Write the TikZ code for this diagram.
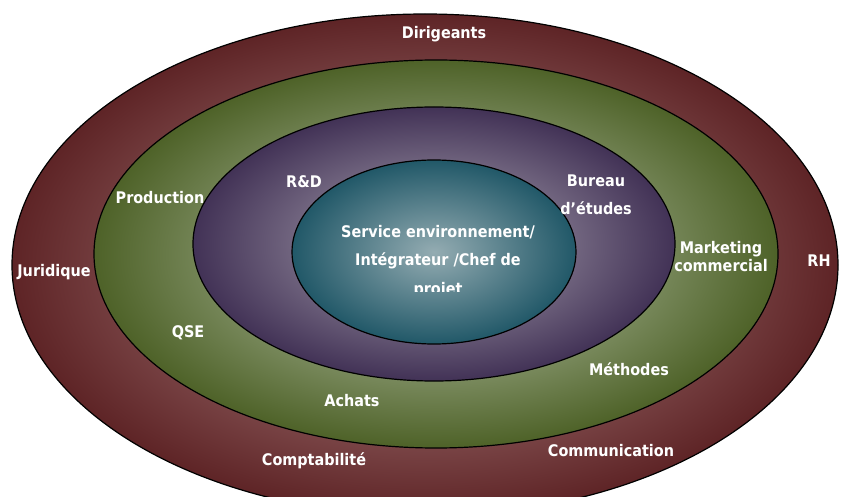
\documentclass[tikz,border=0pt]{standalone}
\usepackage{fontspec}
\setsansfont{DejaVu Sans Condensed}
\usetikzlibrary{positioning}
\makeatletter
\pgfdeclareradialshading[tikz@radial@inner,tikz@radial@outer]{softglow}{\pgfpointorigin}{color(0bp)=(tikz@radial@inner); color(25bp)=(tikz@radial@outer); color(50bp)=(tikz@radial@outer)}
\makeatother
\definecolor{maroonedge}{RGB}{94,36,38}
\definecolor{maroonglow}{RGB}{190,150,150}
\definecolor{oliveedge}{RGB}{78,98,40}
\definecolor{oliveglow}{RGB}{200,210,190}
\definecolor{plumedge}{RGB}{66,50,86}
\definecolor{plumglow}{RGB}{178,172,184}
\definecolor{tealedge}{RGB}{33,88,104}
\definecolor{tealglow}{RGB}{148,172,178}

\begin{document}
\begin{tikzpicture}
	[x=1pt, y=-1pt,
	ring/.style 2 args={inner color=#1, outer color=#2, shading=softglow, draw=black, line width=1.2pt},
	dept/.style={text=white, inner sep=0pt, font=\sffamily\bfseries\fontsize{16}{18}\selectfont},
	wide/.style={dept, align=center, font=\sffamily\bfseries\fontsize{16}{28.5}\selectfont}]
	\clip (0,0) rectangle (841,497);
	
	\path[ring={maroonglow}{maroonedge}] (425,265) ellipse [x radius=413, y radius=251];
	\path[ring={oliveglow}{oliveedge}] (436,254) ellipse [x radius=342, y radius=194];
	\path[ring={plumglow}{plumedge}] (434,244) ellipse [x radius=241, y radius=137];
	\path[ring={tealglow}{tealedge}] (434,252) ellipse [x radius=142, y radius=92];
	
	% outer ring
	\node[dept] (dirigeants) at (444,34) {Dirigeants};
	\node[dept] (juridique) at (54,272) {Juridique};
	\node[dept] (rh) at (819,261) {RH};
	\node[dept] (compta) at (314,461) {Comptabilité};
	\node[dept] (comm) at (611,451) {Communication};
	
	% second ring
	\node[dept] (production) at (160,198) {Production};
	\node[dept] (qse) at (188,333) {QSE};
	\node[dept] (achats) at (352,401) {Achats};
	\node[dept] (methodes) at (629,369) {Méthodes};
	\node[dept, align=center] (marketing) at (721,257) {Marketing\\commercial};
	
	% third ring
	\node[dept] (rd) at (304,182) {R\&D};
	\node[wide] (bureau) at (596,195) {Bureau\\d’études};
	
	% centre, last line cut off
	\begin{scope}
		\clip (290,150) rectangle (580,291);
		\node[wide] (service) at (438,261.5) {Service environnement/\\Intégrateur /Chef de\\projet};
	\end{scope}
\end{tikzpicture}
\end{document}
